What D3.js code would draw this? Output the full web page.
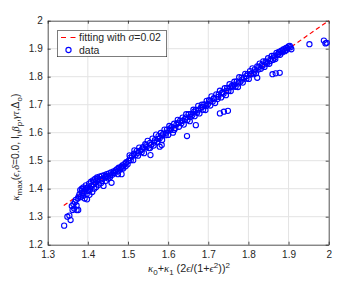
<!DOCTYPE html>
<html><head><meta charset="utf-8">
<script src="https://cdn.jsdelivr.net/npm/d3@7/dist/d3.min.js"></script>
<style>body{margin:0;background:#fff}svg{display:block}text{font-family:"Liberation Sans",Arial,sans-serif;fill:#262626}</style>
</head><body><svg id="c" width="364" height="282"></svg>
<script>
const xTicks=[1.3,1.4,1.5,1.6,1.7,1.8,1.9,2];
const yTicks=[1.2,1.3,1.4,1.5,1.6,1.7,1.8,1.9,2];
const xTickLabels=["1.3","1.4","1.5","1.6","1.7","1.8","1.9","2"];
const yTickLabels=["1.2","1.3","1.4","1.5","1.6","1.7","1.8","1.9","2"];
const fitX=[1.34,2.0];
const fitY=[1.34,2.0];
const dataX=[1.341,1.349,1.354,1.357,1.360,1.362,1.366,1.372,1.376,1.364,1.368,1.370,1.372,1.375,1.377,
1.379,1.381,1.383,1.385,1.386,1.388,1.389,1.391,1.392,1.394,1.395,1.397,1.398,1.400,1.401,1.403,1.404,1.406,1.408,1.409,1.411,1.413,1.414,1.416,1.418,1.419,1.421,1.423,1.425,1.427,1.429,1.431,1.433,1.435,1.437,1.439,1.441,1.443,1.445,1.447,1.449,1.451,1.453,1.455,1.459,1.458,1.461,1.464,1.467,1.470,1.473,1.475,1.477,1.480,1.484,1.483,1.486,1.488,1.491,1.494,1.496,1.499,1.502,
1.504,1.507,1.510,1.513,1.516,1.519,1.522,1.525,1.528,1.531,1.534,1.537,1.540,1.543,1.546,1.549,1.552,1.556,1.555,1.558,1.561,1.564,1.567,1.570,1.573,1.576,1.579,1.584,1.579,1.582,1.585,1.588,1.591,1.594,1.597,1.600,1.603,1.606,1.609,1.612,1.615,1.618,1.621,1.624,1.627,1.630,1.633,1.636,1.639,1.642,1.647,1.645,1.648,1.651,1.654,1.657,1.660,1.663,1.666,1.669,1.669,1.672,1.675,1.678,1.681,1.684,1.687,1.690,1.693,1.696,1.699,1.702,1.705,1.708,1.711,1.714,1.717,1.720,1.723,1.729,1.739,1.749,1.726,1.729,1.732,1.735,1.738,1.741,1.744,1.747,1.750,1.753,1.756,1.759,1.762,1.765,1.768,1.771,1.774,1.777,1.780,1.783,1.786,1.789,1.792,1.795,1.798,1.801,1.804,1.807,1.810,1.813,1.816,1.822,1.819,1.822,1.825,1.828,1.831,1.834,1.837,1.840,1.843,1.846,1.849,1.852,1.855,1.858,1.860,1.868,1.878,1.861,1.864,1.867,1.870,1.873,1.876,1.879,1.882,1.885,1.888,1.891,1.894,1.897,1.900,1.903,1.907,1.952,1.988,1.995,1.992,
1.385,1.395,1.405,1.415,1.425,1.435,1.445,1.455,1.465,1.475,1.485,1.495,
1.505,1.515,1.525,1.535,1.545,1.555,1.565,1.575,1.585,1.595,1.605,1.615,1.625,1.635,1.645,1.655,1.665,1.675,1.685,1.695,1.705,1.715,1.725,1.735,1.745,1.755,1.765,1.775,1.785,1.795,1.805,1.815,1.825,1.835,1.845,1.855,1.865,1.875,1.885,1.895,1.905];
const dataY=[1.268,1.300,1.304,1.288,1.338,1.324,1.329,1.324,1.324,1.345,1.352,1.360,1.340,1.365,1.372,
1.380,1.395,1.370,1.400,1.385,1.375,1.405,1.390,1.365,1.398,1.412,1.380,1.362,1.405,1.392,1.418,1.378,1.400,1.425,1.410,1.388,1.430,1.415,1.400,1.435,1.422,1.406,1.440,1.428,1.414,1.443,1.432,1.420,1.446,1.436,1.410,1.448,1.440,1.428,1.452,1.444,1.436,1.455,1.447,1.421,1.458,1.450,1.462,1.455,1.466,1.470,1.452,1.475,1.468,1.452,1.478,1.483,1.472,1.488,1.480,1.495,1.487,1.500,
1.519,1.502,1.517,1.502,1.537,1.520,1.535,1.518,1.547,1.536,1.530,1.548,1.527,1.559,1.548,1.571,1.545,1.520,1.564,1.556,1.579,1.554,1.573,1.593,1.568,1.588,1.550,1.556,1.580,1.599,1.574,1.596,1.611,1.591,1.611,1.592,1.624,1.609,1.621,1.600,1.632,1.617,1.630,1.646,1.621,1.643,1.634,1.654,1.629,1.649,1.588,1.666,1.645,1.666,1.641,1.667,1.662,1.682,1.659,1.627,1.681,1.671,1.696,1.669,1.689,1.700,1.682,1.701,1.681,1.714,1.702,1.716,1.697,1.730,1.711,1.723,1.706,1.737,1.720,1.669,1.675,1.678,1.737,1.750,1.726,1.742,1.739,1.759,1.734,1.760,1.749,1.773,1.749,1.768,1.765,1.782,1.764,1.783,1.763,1.798,1.782,1.797,1.779,1.797,1.810,1.793,1.809,1.792,1.820,1.810,1.830,1.809,1.826,1.796,1.812,1.837,1.826,1.847,1.828,1.843,1.855,1.835,1.855,1.846,1.866,1.846,1.863,1.874,1.809,1.812,1.814,1.860,1.875,1.863,1.885,1.878,1.889,1.878,1.893,1.887,1.898,1.891,1.903,1.901,1.908,1.910,1.898,1.916,1.929,1.921,1.919,
1.392,1.402,1.395,1.425,1.435,1.428,1.445,1.440,1.458,1.462,1.475,1.492,
1.510,1.525,1.528,1.540,1.555,1.545,1.565,1.578,1.590,1.600,1.615,1.610,1.635,1.642,1.655,1.656,1.675,1.680,1.692,1.695,1.712,1.722,1.728,1.745,1.750,1.762,1.772,1.776,1.790,1.802,1.808,1.818,1.835,1.838,1.852,1.856,1.868,1.882,1.894,1.895,1.905];

const svg=d3.select("#c");
const L=47.7,R=328.7,T=20.7,B=244.7;
const x=d3.scaleLinear().domain([1.3,2]).range([L,R]);
const y=d3.scaleLinear().domain([1.2,2]).range([B,T]);
const axCol="#262626";

// grid
const g=svg.append("g");
g.selectAll("line.gx").data(xTicks.slice(1,-1)).enter().append("line")
 .attr("x1",d=>x(d)).attr("x2",d=>x(d)).attr("y1",T).attr("y2",B).attr("stroke","#e3e3e3").attr("stroke-width",1);
g.selectAll("line.gy").data(yTicks.slice(1,-1)).enter().append("line")
 .attr("y1",d=>y(d)).attr("y2",d=>y(d)).attr("x1",L).attr("x2",R).attr("stroke","#e3e3e3").attr("stroke-width",1);

function styleAxis(sel){sel.select(".domain").attr("stroke",axCol).attr("stroke-width",0.8);
 sel.selectAll(".tick line").attr("stroke",axCol).attr("stroke-width",0.8);
 sel.selectAll("text").attr("font-size",10).attr("fill",axCol).attr("font-family","Liberation Sans, Arial, sans-serif");}
const xb=svg.append("g").attr("transform",`translate(0,${B})`).call(d3.axisBottom(x).tickValues(xTicks).tickFormat((d,i)=>xTickLabels[i]).tickSizeInner(-3).tickSizeOuter(0).tickPadding(6));
styleAxis(xb);
const xt=svg.append("g").attr("transform",`translate(0,${T})`).call(d3.axisTop(x).tickValues(xTicks).tickFormat("").tickSizeInner(-3).tickSizeOuter(0));
styleAxis(xt);
const yl=svg.append("g").attr("transform",`translate(${L},0)`).call(d3.axisLeft(y).tickValues(yTicks).tickFormat((d,i)=>yTickLabels[i]).tickSizeInner(-3).tickSizeOuter(0).tickPadding(5));
styleAxis(yl);
const yr=svg.append("g").attr("transform",`translate(${R},0)`).call(d3.axisRight(y).tickValues(yTicks).tickFormat("").tickSizeInner(-3).tickSizeOuter(0));
styleAxis(yr);

// fit line
const fit=fitX.map((v,i)=>[v,fitY[i]]);
svg.append("path").datum(fit).attr("d",d3.line().x(d=>x(d[0])).y(d=>y(d[1])))
 .attr("fill","none").attr("stroke","#ff0000").attr("stroke-width",1.2).attr("stroke-dasharray","4.5,3");

// data
const pts=dataX.map((v,i)=>[v,dataY[i]]);
svg.append("g").selectAll("circle").data(pts).enter().append("circle")
 .attr("cx",d=>x(d[0])).attr("cy",d=>y(d[1])).attr("r",2.6)
 .attr("fill","none").attr("stroke","#0000ff").attr("stroke-width",1.1);

// legend
const lg=svg.append("g");
lg.append("rect").attr("x",57.3).attr("y",30.7).attr("width",109.4).attr("height",26).attr("fill","#fff").attr("stroke",axCol).attr("stroke-width",0.6);
lg.append("line").attr("x1",61).attr("x2",75.5).attr("y1",37.5).attr("y2",37.5).attr("stroke","#ff0000").attr("stroke-width",1.2).attr("stroke-dasharray","5,4.5");
lg.append("circle").attr("cx",68.5).attr("cy",50).attr("r",2.6).attr("fill","none").attr("stroke","#0000ff").attr("stroke-width",1.1);
const t1=lg.append("text").attr("x",79).attr("y",41).attr("font-size",10.5);
t1.append("tspan").text("fitting with ");
t1.append("tspan").text("σ").attr("font-family","Liberation Serif, serif").attr("font-style","italic").attr("font-size",11.5);
t1.append("tspan").text("=0.02");
lg.append("text").attr("x",79).attr("y",53.7).attr("font-size",10.5).text("data");

// x label
const xl=svg.append("text").attr("x",189).attr("y",272).attr("text-anchor","middle").attr("font-size",10.8);
const gr="Liberation Serif, serif";
xl.append("tspan").text("κ").attr("font-family",gr).attr("font-style","italic");
xl.append("tspan").text("0").attr("font-size",8).attr("dy",2.5);
xl.append("tspan").text("+").attr("dy",-2.5);
xl.append("tspan").text("κ").attr("font-family",gr).attr("font-style","italic");
xl.append("tspan").text("1").attr("font-size",8).attr("dy",2.5);
xl.append("tspan").text(" (2").attr("dy",-2.5);
xl.append("tspan").text("ϵ").attr("font-family",gr).attr("font-style","italic");
xl.append("tspan").text("/(1+");
xl.append("tspan").text("ϵ").attr("font-family",gr).attr("font-style","italic");
xl.append("tspan").text("2").attr("font-size",8).attr("dy",-4.5);
xl.append("tspan").text("))").attr("dy",4.5);
xl.append("tspan").text("2").attr("font-size",8).attr("dy",-4.5);

// y label
const ylab=svg.append("text").attr("transform","translate(19,147) rotate(-90)").attr("text-anchor","middle").attr("font-size",10.3);
ylab.append("tspan").text("κ").attr("font-family",gr).attr("font-style","italic");
ylab.append("tspan").text("max").attr("font-size",8).attr("dy",2.5);
ylab.append("tspan").text("(").attr("dy",-2.5);
ylab.append("tspan").text("ϵ").attr("font-family",gr).attr("font-style","italic");
ylab.append("tspan").text(",");
ylab.append("tspan").text("δ").attr("font-family",gr).attr("font-style","italic");
ylab.append("tspan").text("=0.0, I");
ylab.append("tspan").text("i").attr("font-size",8).attr("dy",2.5);
ylab.append("tspan").text(",").attr("dy",-2.5);
ylab.append("tspan").text("β").attr("font-family",gr).attr("font-style","italic");
ylab.append("tspan").text("p").attr("font-size",8).attr("dy",2.5);
ylab.append("tspan").text(",").attr("dy",-2.5);
ylab.append("tspan").text("γτ").attr("font-family",gr).attr("font-style","italic");
ylab.append("tspan").text(",Δ");
ylab.append("tspan").text("o").attr("font-size",8).attr("dy",2.5);
ylab.append("tspan").text(")").attr("dy",-2.5);
</script></body></html>
